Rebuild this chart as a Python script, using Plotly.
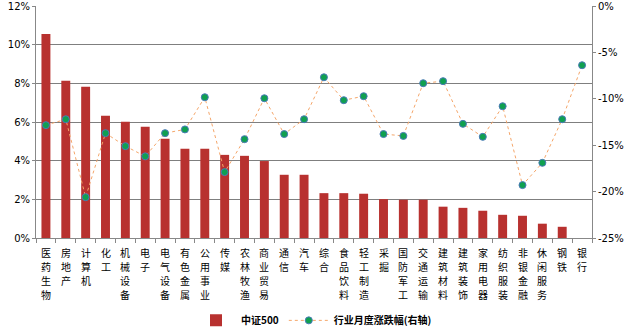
import plotly.graph_objects as go

categories = ["医药生物", "房地产", "计算机", "化工", "机械设备", "电子", "电气设备", "有色金属",
              "公用事业", "传媒", "农林牧渔", "商业贸易", "通信", "汽车", "综合", "食品饮料",
              "轻工制造", "采掘", "国防军工", "交通运输", "建筑材料", "建筑装饰", "家用电器",
              "纺织服装", "非银金融", "休闲服务", "钢铁", "银行"]
csi500 = [10.55, 8.13, 7.82, 6.32, 6.01, 5.75, 5.13, 4.61, 4.61, 4.30, 4.25, 3.98, 3.27, 3.27,
          2.32, 2.32, 2.29, 2.01, 1.98, 1.98, 1.62, 1.56, 1.41, 1.20, 1.15, 0.74, 0.58, 0.0]
monthly = [-12.84, -12.2, -20.6, -13.7, -15.1, -16.2, -13.7, -13.3, -9.83, -17.9, -14.35, -9.94,
           -13.8, -12.2, -7.68, -10.15, -9.72, -13.8, -14.0, -8.32, -8.1, -12.7, -14.1, -10.8,
           -19.3, -16.9, -12.2, -6.38]
left_ticks = [0, 2, 4, 6, 8, 10, 12]
right_ticks = [-25, -20, -15, -10, -5, 0]

font = "Noto Sans CJK SC"

fig = go.Figure()
fig.add_trace(go.Bar(x=categories, y=csi500, name="<b>中证500</b>", width=0.45,
                     marker=dict(color="#b8312f", line=dict(width=0)), yaxis="y"))
fig.add_trace(go.Scatter(x=categories, y=monthly, name="<b>行业月度涨跌幅(右轴)</b>", mode="lines+markers",
                         line=dict(color="#f5a66a", width=1, dash="dot"),
                         marker=dict(color="#10a050", size=7, line=dict(color="#4a7ab8", width=1)),
                         yaxis="y2"))

# vertical category labels, one character per row, anchored to each category on the x axis
annotations = []
for cat in categories:
    for j, ch in enumerate(cat):
        annotations.append(dict(x=cat, xref="x", y=0, yref="paper", text=ch, showarrow=False,
                                xanchor="center", yanchor="middle", yshift=-(14 + 14.2 * j),
                                font=dict(size=10, family=font, color="#000000")))

fig.update_layout(
    width=628, height=329,
    margin=dict(l=36, r=36, t=6, b=91, autoexpand=False),
    paper_bgcolor="white", plot_bgcolor="white",
    font=dict(family=font, size=10, color="#000000"),
    showlegend=True,
    annotations=annotations,
    legend=dict(orientation="h", x=0.5, xanchor="center", y=-0.355, yanchor="middle",
                font=dict(size=10, family=font), itemwidth=40, tracegroupgap=0),
    xaxis=dict(tickmode="array", tickvals=categories, showticklabels=False, automargin=False,
               showline=True, linecolor="#888888", linewidth=1,
               ticks="outside", tickson="boundaries", ticklen=4, tickcolor="#888888",
               showgrid=False, range=[-0.5, len(categories) - 0.5]),
    yaxis=dict(range=[0, 12], tickvals=left_ticks, ticktext=[f"{v}%" for v in left_ticks],
               showline=True, linecolor="#888888", linewidth=1, automargin=False,
               showgrid=True, gridcolor="#7f7f7f", gridwidth=1,
               ticks="outside", ticklen=3, tickcolor="#888888",
               tickfont=dict(size=10, family="DejaVu Sans"), zeroline=False),
    yaxis2=dict(range=[-25, 0], tickvals=right_ticks, ticktext=[f"{v}%" for v in right_ticks],
                overlaying="y", side="right", showgrid=False, zeroline=False, automargin=False,
                showline=True, linecolor="#888888", linewidth=1,
                ticks="outside", ticklen=3, tickcolor="#888888",
                tickfont=dict(size=10, family="DejaVu Sans")),
)

fig.write_html("out.html")
